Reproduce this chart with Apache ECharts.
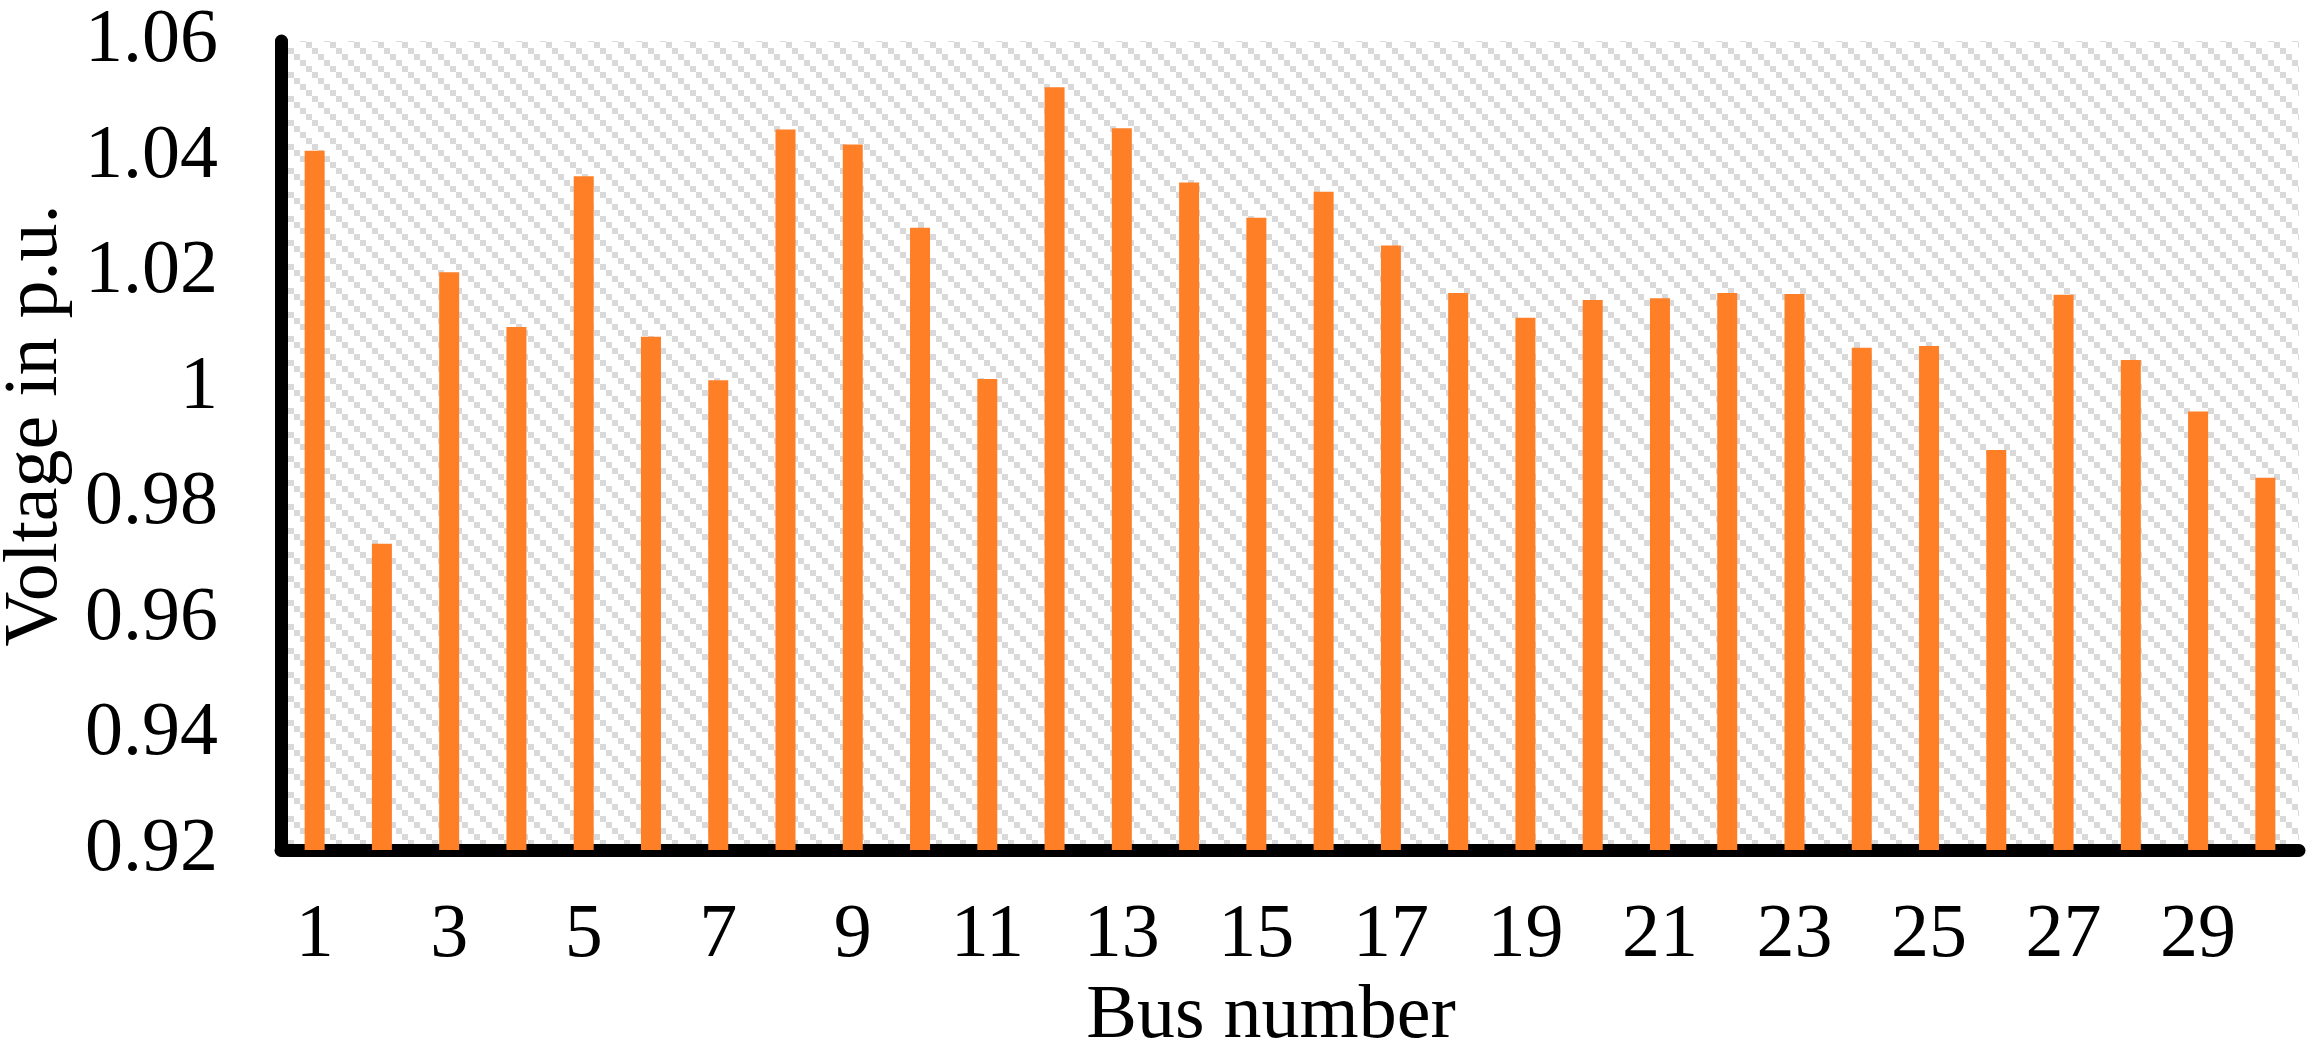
<!DOCTYPE html>
<html>
<head>
<meta charset="utf-8">
<title>Bus voltage</title>
<script src="https://cdn.jsdelivr.net/npm/echarts@6/dist/echarts.min.js"></script>
<style>
  html, body { margin: 0; padding: 0; background: #fff; }
  #chart { width: 2324px; height: 1042px; }
</style>
</head>
<body>
<div id="chart"></div>
<script>
// bus numbers 1..30
var buses = ['1', '2', '3', '4', '5', '6', '7', '8', '9', '10',
  '11', '12', '13', '14', '15', '16', '17', '18', '19', '20',
  '21', '22', '23', '24', '25', '26', '27', '28', '29', '30'];
// voltage in p.u.
var voltage = [1.041, 0.973, 1.020, 1.0105, 1.0366, 1.0088, 1.0013, 1.0447, 1.0421, 1.0277,
  1.0015, 1.052, 1.0449, 1.0355, 1.0294, 1.0339, 1.0246, 1.0164, 1.0121, 1.0152,
  1.0155, 1.0164, 1.0162, 1.0069, 1.0072, 0.9892, 1.0161, 1.0048, 0.9959, 0.9844];
// y tick labels, from min upward
var yTicks = ['0.92', '0.94', '0.96', '0.98', '1', '1.02', '1.04', '1.06'];

// hatch fill of the plot area (wide downward diagonal)
var hatch = document.createElement('canvas');
hatch.width = 24;
hatch.height = 24;
var ctx = hatch.getContext('2d');
ctx.fillStyle = '#ffffff';
ctx.fillRect(0, 0, 24, 24);
ctx.fillStyle = '#d9d9d9';
for (var i = 0; i < 4; i++) {
  ctx.fillRect(i * 6, i * 6, 6, 6);
}

var font = 'Liberation Serif';
var chart = echarts.init(document.getElementById('chart'));
chart.setOption({
  animation: false,
  grid: {
    show: true,
    left: 281,
    right: 25,
    top: 41,
    bottom: 192,
    containLabel: false,
    outerBoundsMode: 'none',
    borderWidth: 0,
    backgroundColor: { image: hatch, repeat: 'repeat' }
  },
  xAxis: {
    type: 'category',
    data: buses,
    name: 'Bus number',
    nameLocation: 'middle',
    nameGap: 95,
    nameTextStyle: {
      fontFamily: font,
      fontSize: 76,
      color: '#000',
      padding: [0, 38, 0, 0]
    },
    axisLine: { lineStyle: { color: '#000', width: 13 } },
    axisTick: { show: false },
    axisLabel: {
      interval: 1,
      margin: 48,
      fontFamily: font,
      fontSize: 76,
      color: '#000'
    }
  },
  yAxis: {
    type: 'value',
    min: 0.92,
    max: 1.06,
    interval: 0.02,
    name: 'Voltage in p.u.',
    nameLocation: 'middle',
    nameGap: 188,
    nameTextStyle: {
      fontFamily: font,
      fontSize: 76,
      color: '#000',
      padding: [0, 0, 0, 40]
    },
    axisLine: { show: true, lineStyle: { color: '#000', width: 13 } },
    axisTick: { show: false },
    splitLine: { show: false },
    axisLabel: {
      margin: 63,
      fontFamily: font,
      fontSize: 76,
      color: '#000',
      formatter: function(v) {
        return yTicks[Math.round((v - 0.92) / 0.02)];
      }
    }
  },
  series: [{
    type: 'bar',
    data: voltage,
    barWidth: 20,
    itemStyle: { color: '#ff7f27' }
  }]
});
</script>
</body>
</html>
